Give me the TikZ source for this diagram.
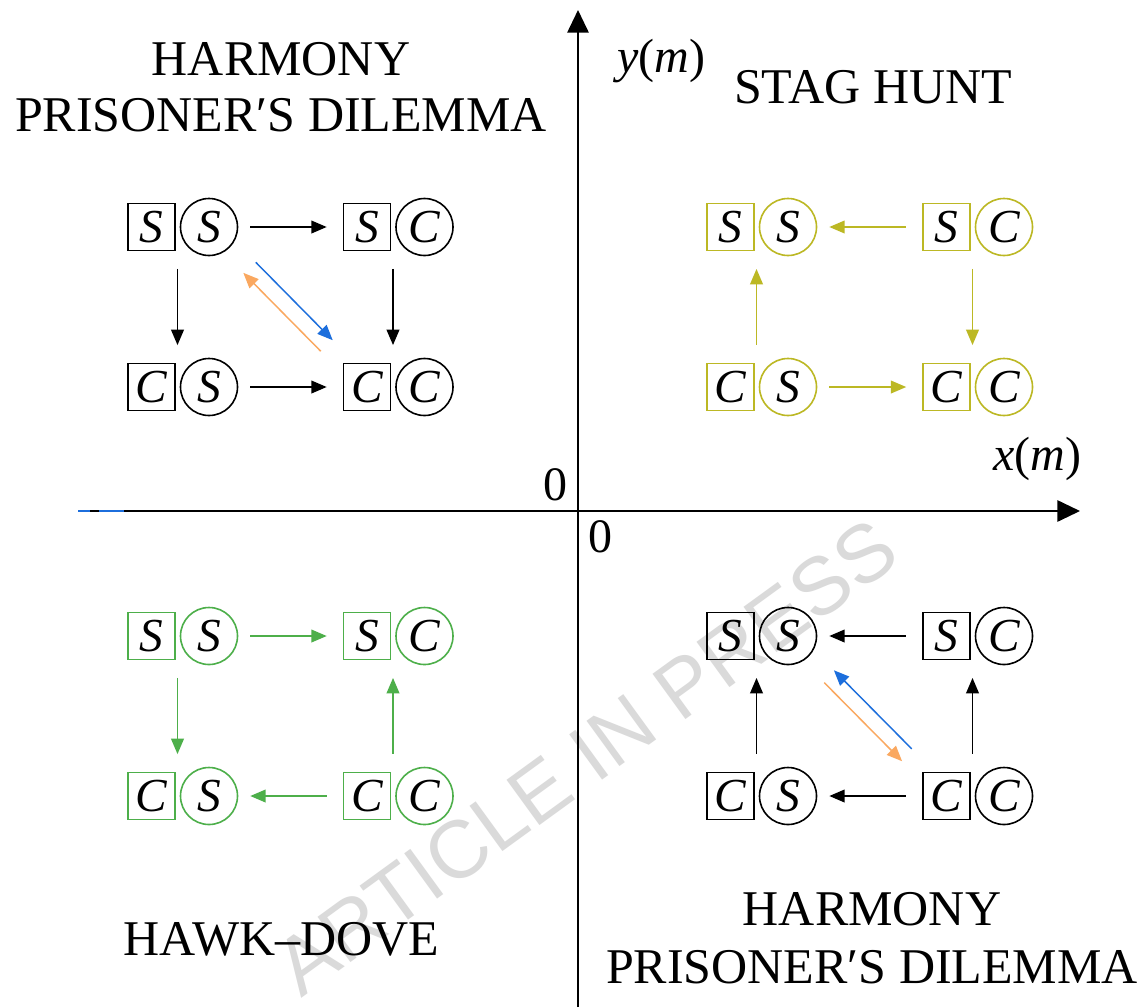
\documentclass[tikz,border=0pt]{standalone}
\usepackage{fontspec}
\setmainfont{Liberation Serif}
\newfontfamily\wmsans{Liberation Sans}
\usetikzlibrary{arrows.meta,calc}

\definecolor{hgreen}{RGB}{77,175,74}
\definecolor{holive}{RGB}{188,184,36}
\definecolor{hblue}{RGB}{28,110,220}
\definecolor{horange}{RGB}{250,168,96}
\definecolor{wmgray}{RGB}{218,218,218}

\newcommand\statefont{\fontsize{35.5}{40}\selectfont\itshape}
\newcommand\titlefont{\fontsize{37.5}{42}\selectfont}
\newcommand\axfont{\fontsize{36}{40}\selectfont}
\newcommand\wmfont{\wmsans\fontsize{61}{66}\selectfont}

% one state: a square for the first player, a circle for the second
\newcommand\gstate[6]{%
  \node[pairnode] (#1) at (#2,#3) {};
  \node[sbox, draw=#6] (#1b) at (#2-26,#3) {#4};
  \node[scirc, draw=#6] (#1c) at (#2+31.5,#3) {#5};
}

\begin{document}
\begin{tikzpicture}[x=0.75pt,y=-0.75pt,
  pairnode/.style={rectangle, inner sep=0pt, minimum width=0pt, minimum height=43.5pt},
  sbox/.style={rectangle, minimum size=35.25pt, inner sep=0pt, line width=1.2pt, font=\statefont},
  scirc/.style={circle, minimum size=42.75pt, inner sep=0pt, line width=1.2pt, font=\statefont},
  title/.style={anchor=base, inner sep=0pt, font=\titlefont},
  axlabel/.style={inner sep=0pt, font=\axfont},
  axis/.style={line width=1.4pt, -{Triangle[length=17pt,width=16pt]}},
  fwd/.style={-{Triangle[length=11.5pt,width=9.5pt]}},
  back/.style={{Triangle[length=11.5pt,width=9.5pt]}-},
  harrow/.style={line width=1.2pt, shorten <=9pt, shorten >=12pt},
  varrow/.style={line width=1.2pt, shorten <=9.5pt, shorten >=9.5pt},
  darrow/.style={line width=1.1pt}]

\fill[white] (0,0) rectangle (1144,1007);
\useasboundingbox (0,0) rectangle (1144,1007);

% watermark
\node[rotate=36, text=wmgray, font=\wmfont, inner sep=0pt] (wm) at (586,757) {ARTICLE IN PRESS};

% axes
\coordinate (xa) at (78,511);
\coordinate (xb) at (1080,511);
\coordinate (ya) at (578,1007);
\coordinate (yb) at (578,10);
\draw[axis] (xa) -- (xb);
\draw[axis] (ya) -- (yb);
\coordinate (bda) at (78,511);
\coordinate (bdb) at (90,511);
\coordinate (bdc) at (99,511);
\coordinate (bdd) at (124,511);
\draw[hblue, line width=2pt] (bda) -- (bdb) (bdc) -- (bdd);

\node[axlabel, anchor=base west] (ylab) at (617,72) {\textit{y}(\textit{m})};
\node[axlabel, anchor=base west] (xlab) at (993,470) {\textit{x}(\textit{m})};
\node[axlabel, anchor=base] (zeroA) at (555,500) {0};
\node[axlabel, anchor=base] (zeroB) at (600,552) {0};

% quadrant titles
\node[title] (tlA) at (281,75) {HARMONY};
\node[title] (tlB) at (281,131) {PRISONER′S DILEMMA};
\node[title] (trA) at (873,103) {STAG HUNT};
\node[title] (blA) at (281.5,955) {HAWK–DOVE};
\node[title] (brA) at (872,925) {HARMONY};
\node[title] (brB) at (872,983) {PRISONER′S DILEMMA};

% upper left: harmony / prisoner's dilemma
\gstate{tlSS}{177.5}{227}{S}{S}{black}
\gstate{tlSC}{393}{227}{S}{C}{black}
\gstate{tlCS}{177.5}{387}{C}{S}{black}
\gstate{tlCC}{393}{387}{C}{C}{black}
\draw[harrow, fwd] (tlSSc.east) -- (tlSCb.west);
\draw[harrow, fwd] (tlCSc.east) -- (tlCCb.west);
\draw[varrow, fwd] (tlSS) -- (tlCS);
\draw[varrow, fwd] (tlSC) -- (tlCC);
\draw[darrow, hblue, fwd, shorten <=43.5pt, shorten >=43pt]
  ([shift={(6,-6)}]tlSSc.center) -- ([shift={(6,-6)}]tlCCb.center);
\draw[darrow, horange, back, shorten <=42.5pt, shorten >=43.5pt]
  ([shift={(-5.5,5.5)}]tlSSc.center) -- ([shift={(-5.5,5.5)}]tlCCb.center);

% upper right: stag hunt
\gstate{trSS}{756.5}{227}{S}{S}{holive}
\gstate{trSC}{972.5}{227}{S}{C}{holive}
\gstate{trCS}{756.5}{387}{C}{S}{holive}
\gstate{trCC}{972.5}{387}{C}{C}{holive}
\draw[harrow, back, holive] (trSSc.east) -- (trSCb.west);
\draw[harrow, fwd, holive] (trCSc.east) -- (trCCb.west);
\draw[varrow, back, holive] (trSS) -- (trCS);
\draw[varrow, fwd, holive] (trSC) -- (trCC);

% lower left: hawk-dove
\gstate{blSS}{177.5}{636}{S}{S}{hgreen}
\gstate{blSC}{393}{636}{S}{C}{hgreen}
\gstate{blCS}{177.5}{796}{C}{S}{hgreen}
\gstate{blCC}{393}{796}{C}{C}{hgreen}
\draw[harrow, fwd, hgreen] (blSSc.east) -- (blSCb.west);
\draw[harrow, back, hgreen] (blCSc.east) -- (blCCb.west);
\draw[varrow, fwd, hgreen] (blSS) -- (blCS);
\draw[varrow, back, hgreen] (blSC) -- (blCC);

% lower right: harmony / prisoner's dilemma
\gstate{brSS}{756.5}{636}{S}{S}{black}
\gstate{brSC}{972.5}{636}{S}{C}{black}
\gstate{brCS}{756.5}{796}{C}{S}{black}
\gstate{brCC}{972.5}{796}{C}{C}{black}
\draw[harrow, back] (brSSc.east) -- (brSCb.west);
\draw[harrow, back] (brCSc.east) -- (brCCb.west);
\draw[varrow, back] (brSS) -- (brCS);
\draw[varrow, back] (brSC) -- (brCC);
\draw[darrow, hblue, back, shorten <=42.5pt, shorten >=43.5pt]
  ([shift={(6,-6)}]brSSc.center) -- ([shift={(6,-6)}]brCCb.center);
\draw[darrow, horange, fwd, shorten <=44pt, shorten >=42pt]
  ([shift={(-5,5)}]brSSc.center) -- ([shift={(-5,5)}]brCCb.center);
\end{tikzpicture}
\end{document}
